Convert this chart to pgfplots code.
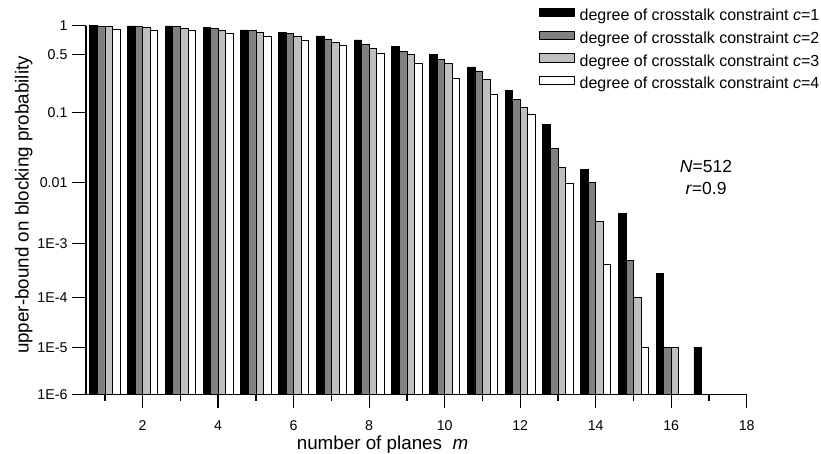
\documentclass[border=0pt]{standalone}
\usepackage{fontspec}
\setmainfont{Liberation Sans}
\usepackage{pgfplots}
\usepackage{pgfplotstable}
\pgfplotsset{compat=1.18}

% c = 1
\pgfplotstableread{
m p
1 1
2 0.995
3 0.995
4 0.962
5 0.901
6 0.852
7 0.779
8 0.707
9 0.611
10 0.500
11 0.352
12 0.182
13 0.0665
14 0.0151
15 0.0031
16 0.000281
17 0.00001
}\dataA
% c = 2
\pgfplotstableread{
m p
1 0.990
2 0.976
3 0.976
4 0.930
5 0.895
6 0.824
7 0.725
8 0.637
9 0.538
10 0.435
11 0.315
12 0.143
13 0.0302
14 0.0100
15 0.000493
16 0.00001
}\dataB
% c = 3
\pgfplotstableread{
m p
1 0.976
2 0.962
3 0.939
4 0.901
5 0.852
6 0.773
7 0.669
8 0.583
9 0.500
10 0.385
11 0.250
12 0.115
13 0.0162
14 0.00232
15 0.0001
16 0.00001
}\dataC
% c = 4
\pgfplotstableread{
m p
1 0.916
2 0.901
3 0.886
4 0.832
5 0.773
6 0.702
7 0.622
8 0.516
9 0.389
10 0.254
11 0.166
12 0.0937
13 0.00974
14 0.000411
15 0.00001
}\dataD

\begin{document}
\begin{tikzpicture}
\useasboundingbox (0,0) rectangle (821pt,454pt);
\begin{axis}[
  at={(86pt,59.67pt)}, anchor=south west,
  scale only axis, width=660.7pt, height=368.67pt,
  y coord trafo/.code={%
    \begingroup
    \pgfkeys{/pgf/fpu=true,/pgf/fpu/output format=fixed}%
    \pgfmathparse{-ln(#1)/2.302585093}%
    \let\myt\pgfmathresult
    \pgfmathparse{368.67-(95.24*min(max(\myt,0),0.30103)+82.98*min(max(\myt-0.30103,0),0.69897)+70*min(max(\myt-1,0),1)+61*min(max(\myt-2,0),1)+54.33*min(max(\myt-3,0),1)+50*min(max(\myt-4,0),1)+46.67*max(\myt-5,0))}%
    \xdef\mytrafores{\pgfmathresult}%
    \endgroup
    \let\pgfmathresult\mytrafores
  },
  xmin=0.5, xmax=18, ymin=0.000001, ymax=1,
  enlargelimits=false,
  axis x line*=bottom, axis y line*=left,
  axis line style={line width=1.3pt},
  ybar, bar width=0.2,
  xtick={2,4,...,18},
  minor xtick={1,3,...,17},
  ytick={0.000001,0.00001,0.0001,0.001,0.01,0.1,0.5,1},
  yticklabels={1E-6,1E-5,1E-4,1E-3,0.01,0.1,0.5,1},
  tick align=outside,
  major tick length=14pt, minor tick length=6.5pt,
  tick style={line width=1.3pt, black},
  /pgf/number format/assume math mode=true,
  ticklabel style={font=\fontsize{14.2}{17}\selectfont},
  xticklabel style={inner sep=0pt, yshift=-12.5pt},
  yticklabel style={xshift=-1pt},
  xlabel={number of planes \ \textit{m}},
  ylabel={upper-bound on blocking probability},
  xlabel style={at={(axis description cs:0.4488,-0.1361)}, anchor=center, inner sep=0pt, font=\fontsize{18.8}{22}\selectfont},
  ylabel style={at={(axis description cs:-0.0943,0.5136)}, anchor=center, rotate=0, font=\fontsize{18.8}{22}\selectfont},
  legend style={draw=none, fill=none, at={(0.6856,1.0479)}, anchor=north west,
    inner sep=0pt, outer sep=0pt, row sep=6.3pt, column sep=5pt,
    font=\fontsize{16}{19}\selectfont,
    nodes={inner sep=0pt, text height=11.5pt, text depth=3.5pt}},
  legend cell align=left,
  legend image code/.code={\draw[#1] (0pt,0pt) rectangle (35pt,8.5pt);},
  clip=false,
]
\addplot[fill=black, draw=black, line width=0.7pt, bar shift=-0.3] table[x=m,y=p] {\dataA};
\addplot[fill=black!50, draw=black, line width=0.7pt, bar shift=-0.1] table[x=m,y=p] {\dataB};
\addplot[fill=black!25, draw=black, line width=0.7pt, bar shift=0.1] table[x=m,y=p] {\dataC};
\addplot[fill=white, draw=black, line width=0.7pt, bar shift=0.3] table[x=m,y=p] {\dataD};
\legend{degree of crosstalk constraint \textit{c}=1,
        degree of crosstalk constraint \textit{c}=2,
        degree of crosstalk constraint \textit{c}=3,
        degree of crosstalk constraint \textit{c}=4}
\node[font=\fontsize{17.5}{22}\selectfont, align=center] at (rel axis cs:0.9384,0.5895) {\textit{N}=512\\\textit{r}=0.9};
\end{axis}
\end{tikzpicture}
\end{document}
